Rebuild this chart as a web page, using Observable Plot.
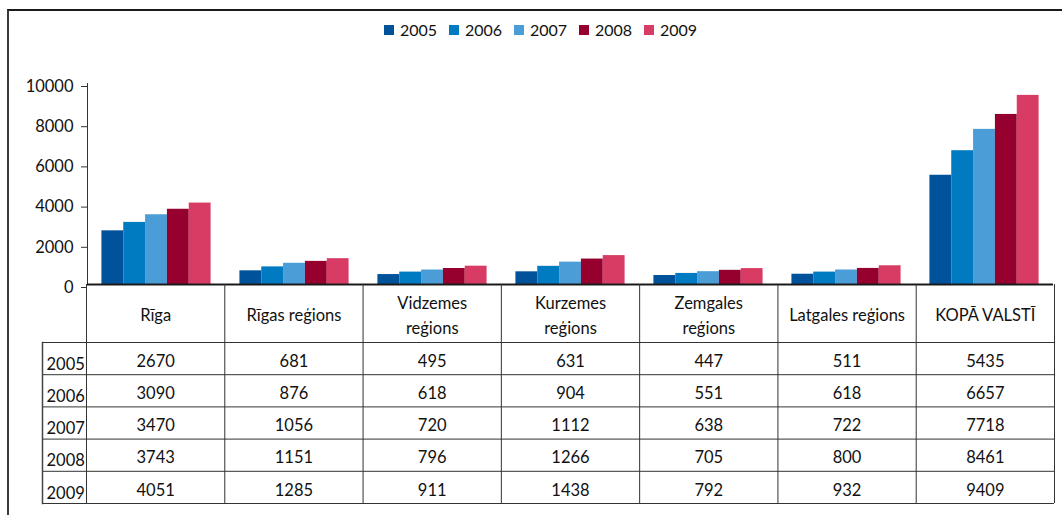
<!DOCTYPE html>
<html>
<head>
<meta charset="utf-8">
<script src="https://cdn.jsdelivr.net/npm/d3@7"></script>
<script src="https://cdn.jsdelivr.net/npm/@observablehq/plot@0.6"></script>
<style>
  html, body { margin: 0; padding: 0; background: #fff; }
  #wrap { position: relative; width: 1062px; height: 515px; overflow: hidden; font-family: Lato, "Noto Sans", sans-serif; color: #111; }
  #border { position: absolute; left: 7px; top: 9px; width: 1100px; height: 600px; border-top: 2px solid #1a1a1a; border-left: 2px solid #3a3a3a; box-sizing: border-box; }
  .layer { position: absolute; left: 0; top: 0; }
  #legend { position: absolute; left: 384px; top: 21px; height: 17px; display: flex; align-items: center; font-size: 16px; }
  #legend .item { display: flex; align-items: center; width: 65px; }
  #legend .sw { width: 10px; height: 10px; margin-right: 6px; }
</style>
</head>
<body>
<div id="wrap">
  <div id="border"></div>
  <div id="legend"></div>
</div>
<script>
const categories = ["Rīga", "Rīgas reģions", "Vidzemes reģions", "Kurzemes reģions", "Zemgales reģions", "Latgales reģions", "KOPĀ VALSTĪ"];
const headerLabels = ["Rīga", "Rīgas reģions", "Vidzemes\nreģions", "Kurzemes\nreģions", "Zemgales\nreģions", "Latgales reģions", "KOPĀ VALSTĪ"];
const years = ["2005", "2006", "2007", "2008", "2009"];
const values2005 = [2670, 681, 495, 631, 447, 511, 5435];
const values2006 = [3090, 876, 618, 904, 551, 618, 6657];
const values2007 = [3470, 1056, 720, 1112, 638, 722, 7718];
const values2008 = [3743, 1151, 796, 1266, 705, 800, 8461];
const values2009 = [4051, 1285, 911, 1438, 792, 932, 9409];
const yTicks = [0, 2000, 4000, 6000, 8000, 10000];
const colors = ["#00529B", "#007BC1", "#4A9DD6", "#96002E", "#D83C64"];

const series = [values2005, values2006, values2007, values2008, values2009];
const data = [];
series.forEach((vals, yi) => vals.forEach((v, ci) => data.push({category: categories[ci], ci, year: years[yi], yi, value: v})));

const font = {fontFamily: "Lato, 'Noto Sans', sans-serif", fontSize: "16.5px", color: "#111", background: "transparent", overflow: "visible"};

// Bars
const bars = Plot.plot({
  width: 1062, height: 515,
  marginLeft: 86, marginRight: 8, marginTop: 83, marginBottom: 231,
  style: font,
  fx: {domain: categories, padding: 0, axis: null},
  x: {domain: years, paddingInner: 0, paddingOuter: 0.66, round: false, axis: null},
  y: {domain: [0, 10000], axis: null},
  color: {domain: years, range: colors},
  marks: [
    Plot.barY(data, {fx: "category", x: "year", y: "value", fill: "year"}),
    Plot.axisY({ticks: yTicks, tickSize: 6, tickPadding: 8, tickFormat: d3.format("d"), label: null, stroke: "#333", fill: "#111", dy: 3}),
    Plot.frame({anchor: "left", facetAnchor: "left", stroke: "#333"}),
    Plot.ruleY([0], {stroke: "#1a1a1a", strokeWidth: 2})
  ]
});
bars.classList.add("layer");

// Data table
const headerRows = 1.8;
const table = Plot.plot({
  width: 1062, height: 515,
  marginLeft: 42, marginRight: 8, marginTop: 342, marginBottom: 12,
  style: font,
  x: {type: "linear", domain: [0, categories.length], range: [86, 1054], axis: null},
  y: {domain: [0, years.length], reverse: true, axis: null},
  marks: [
    Plot.ruleY(d3.range(0, years.length + 1), {stroke: "#333"}),
    Plot.frame({anchor: "left", stroke: "#444", strokeWidth: 1.5}),
    Plot.ruleX(d3.range(0, categories.length + 1), {y1: -headerRows, y2: years.length, stroke: "#333"}),
    Plot.text(headerLabels, {x: (d, i) => i + 0.5, y: -headerRows / 2, text: d => d, lineHeight: 1.5, dy: 0, fill: "#111"}),
    Plot.text(data, {x: d => d.ci + 0.5, y: d => d.yi + 0.5, text: d => String(d.value), dy: 3, fill: "#111"}),
    Plot.text(years, {y: (d, i) => i + 0.5, text: d => d, frameAnchor: "left", textAnchor: "start", dx: 4, dy: 6, fill: "#111"})
  ]
});
table.classList.add("layer");

const wrap = document.getElementById("wrap");
wrap.appendChild(bars);
wrap.appendChild(table);

const legend = document.getElementById("legend");
years.forEach((y, i) => {
  const item = document.createElement("div");
  item.className = "item";
  const sw = document.createElement("span");
  sw.className = "sw";
  sw.style.background = colors[i];
  const label = document.createElement("span");
  label.textContent = y;
  item.appendChild(sw);
  item.appendChild(label);
  legend.appendChild(item);
});
</script>
</body>
</html>
